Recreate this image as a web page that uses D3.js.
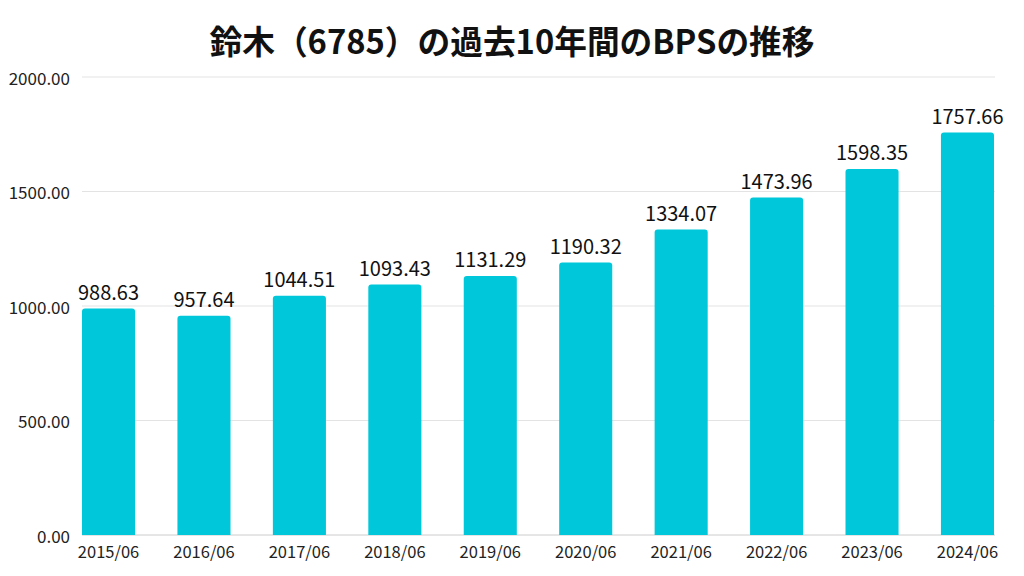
<!DOCTYPE html>
<html><head><meta charset="utf-8">
<script src="https://cdn.jsdelivr.net/npm/d3@7/dist/d3.min.js"></script>
<style>body{margin:0;background:#fff;} svg{display:block;}</style>
</head><body>
<svg id="c" width="1024" height="576"></svg>
<script>
const categories = ["2015/06","2016/06","2017/06","2018/06","2019/06","2020/06","2021/06","2022/06","2023/06","2024/06"];
const bpsValues = [988.63,957.64,1044.51,1093.43,1131.29,1190.32,1334.07,1473.96,1598.35,1757.66];
const yTicks = [0,500,1000,1500,2000];
const titleText = "鈴木（6785）の過去10年間のBPSの推移";

const svg = d3.select("#c");
const W = 1024, H = 576;
const m = {left:82, right:30, top:77, bottom:41};
const x = d3.scaleBand().domain(categories).range([m.left, W - m.right]).paddingInner(0.444).paddingOuter(0);
const y = d3.scaleLinear().domain([0,2000]).range([H - m.bottom, m.top]);
const font = "'Noto Sans CJK JP','Noto Sans',sans-serif";

svg.append("text").attr("x", 512).attr("y", 40).attr("text-anchor","middle").attr("dominant-baseline","central")
  .attr("font-family", font).attr("font-weight","bold").attr("font-size",33).attr("fill","#111")
  .attr("textLength",605).attr("lengthAdjust","spacingAndGlyphs").text(titleText);

const grid = svg.append("g");
grid.selectAll("line").data(yTicks).join("line")
  .attr("x1", m.left).attr("x2", W - m.right + 1)
  .attr("y1", d=>y(d)).attr("y2", d=>y(d))
  .attr("stroke", d=> d===0 ? "#cccccc" : "#e3e3e3").attr("stroke-width",1);

svg.append("g").selectAll("text").data(yTicks).join("text")
  .attr("x", 70).attr("y", d=>y(d)).attr("text-anchor","end").attr("dominant-baseline","central")
  .attr("font-family", font).attr("font-size",17).attr("fill","#222").text(d=>d3.format(".2f")(d));

const r = 3;
svg.append("g").selectAll("path").data(bpsValues).join("path")
  .attr("fill","#00C8DA")
  .attr("d",(d,i)=>{
    const x0 = x(categories[i]), w = x.bandwidth(), y0 = y(d), yb = y(0);
    return `M${x0},${yb}V${y0+r}Q${x0},${y0} ${x0+r},${y0}H${x0+w-r}Q${x0+w},${y0} ${x0+w},${y0+r}V${yb}Z`;
  });

svg.append("g").selectAll("text").data(bpsValues).join("text")
  .attr("x",(d,i)=>x(categories[i]) + x.bandwidth()/2).attr("y", d=>y(d) - 17)
  .attr("text-anchor","middle").attr("dominant-baseline","central")
  .attr("font-family", font).attr("font-size",20).attr("fill","#111").text(d=>d3.format(".2f")(d));

svg.append("g").selectAll("text").data(categories).join("text")
  .attr("x", d=>x(d) + x.bandwidth()/2).attr("y", 551).attr("text-anchor","middle").attr("dominant-baseline","central")
  .attr("font-family", font).attr("font-size",16.5).attr("fill","#222").text(d=>d);
</script>
</body></html>
